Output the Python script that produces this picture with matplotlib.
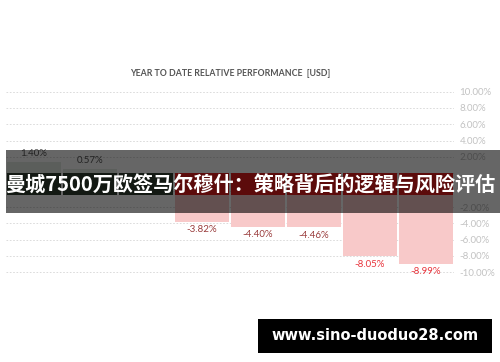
import matplotlib
matplotlib.use('Agg')
import matplotlib.pyplot as plt
from matplotlib.patches import Rectangle
import numpy as np

# data (third bar is hidden under the banner, shows no value)
values = [1.40, 0.57, 0.00, -3.82, -4.40, -4.46, -8.05, -8.99]
ticks_top = [0, 2, 4, 6, 8, 10]
ticks_bottom = [-10, -8, -6, -4, -2, 0]
title = 'YEAR TO DATE RELATIVE PERFORMANCE  [USD]'
banner = '曼城7500万欧签马尔穆什：策略背后的逻辑与风险评估'
watermark = 'www.sino-duoduo28.com'

W, H = 500, 362
positions = np.arange(len(values))


def box(x0, y0, x1, y1):
    # pixel box (top-left origin) -> figure fraction
    return [x0 / W, 1 - y1 / H, (x1 - x0) / W, (y1 - y0) / H]


bar_colors = ['#e3ebe3' if v >= 0 else '#f8c9c9' for v in values]
label_colors = ['#555555' if v >= 0 else ('#e8343c' if v < -6 else '#9a3c3c') for v in values]

fig = plt.figure(figsize=(5, 3.62), dpi=100)

# the chart uses a split axis: positives above, negatives below, one grid row apart
ax_top = fig.add_axes(box(6, 90.7, 454, 174))
ax_bot = fig.add_axes(box(6, 190, 454, 273))

for ax, lim, ticks in [(ax_top, (-0.1, 10.1), ticks_top), (ax_bot, (-10.1, 0.1), ticks_bottom)]:
    ax.bar(positions, values, width=0.965, color=bar_colors, zorder=2)
    ax.set_xlim(-0.5, len(values) - 0.5)
    ax.set_ylim(lim)
    ax.set_yticks(ticks)
    # the zero labels sit under the banner text, left blank
    ax.set_yticklabels([f'{t:.2f}%' if t != 0 else '' for t in ticks], family='Lato')
    ax.yaxis.tick_right()
    ax.tick_params(axis='y', length=0, pad=4, labelsize=7, labelcolor='#c2c2c2')
    ax.set_xticks([])
    for s in ax.spines.values():
        s.set_visible(False)
    ax.grid(axis='y', ls=(0, (2, 2)), color='#d6d6d6', lw=0.6)
    ax.set_axisbelow(True)
    ax.patch.set_alpha(0)

for x, v, c in zip(positions, values, label_colors):
    if v > 0:
        ax_top.annotate(f'{v:.2f}%', (x, v), xytext=(0, 2.5), textcoords='offset points',
                        ha='center', va='bottom', fontsize=7, color=c, family='Lato')
    elif v < 0:
        ax_bot.annotate(f'{v:.2f}%', (x, v), xytext=(0, -2.5), textcoords='offset points',
                        ha='center', va='top', fontsize=7, color=c, family='Lato')

fig.text(230 / W, 1 - 74 / H, title, ha='center', va='center', fontsize=6.3,
         color='#555555', family='Lato', weight='bold')

# grey banner over the middle of the chart
fig.patches.append(Rectangle((6 / W, 1 - 213 / H), 494 / W, 63 / H, transform=fig.transFigure,
                             color='black', alpha=0.6, lw=0, zorder=1))

# darker strip behind the banner text, following the bars
ax_strip = fig.add_axes(box(6, 173.3, 454, 195), zorder=2)
ax_strip.bar(positions, [1] * len(values), width=0.965,
             color=['#131913' if v >= 0 else '#5c0b0b' for v in values])
ax_strip.set_xlim(-0.5, len(values) - 0.5)
ax_strip.set_ylim(0, 1)
ax_strip.axis('off')

fig.text(0.5, 1 - 185 / H, banner, ha='center', va='center', fontsize=14.5, color='white',
         weight='bold', family=['Noto Sans CJK SC', 'DejaVu Sans'], zorder=4)

fig.patches.append(Rectangle((258 / W, 1 - 353 / H), 234 / W, 34 / H, transform=fig.transFigure,
                             color='black', lw=0, zorder=4))
fig.text(375 / W, 1 - 336 / H, watermark, ha='center', va='center', fontsize=10.5,
         color='white', weight='bold', family='DejaVu Sans', zorder=5)

fig.savefig('out.png', dpi=100)
